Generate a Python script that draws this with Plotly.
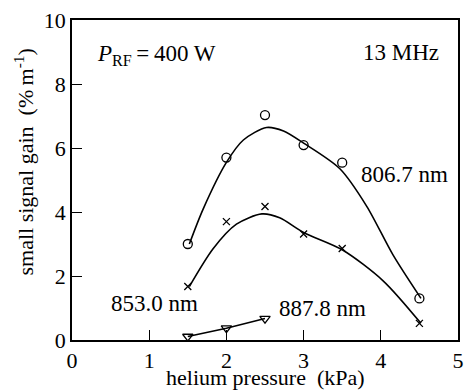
import plotly.graph_objects as go

# Measured points
pressure = [1.5, 2.0, 2.5, 3.0, 3.5, 4.5]
gain_806 = [3.0, 5.7, 7.03, 6.09, 5.54, 1.30]
gain_853 = [1.67, 3.70, 4.17, 3.31, 2.86, 0.52]
pressure_887 = [1.5, 2.0, 2.5]
gain_887 = [0.11, 0.37, 0.67]

# Hand-drawn fit curves
fit_x_806 = [1.52, 1.70, 2.0, 2.22, 2.52, 2.74, 3.0, 3.47, 3.82, 4.16, 4.52]
fit_y_806 = [3.0, 4.10, 5.55, 6.25, 6.64, 6.53, 6.15, 5.35, 4.17, 2.65, 1.30]
fit_x_853 = [1.52, 1.83, 2.13, 2.46, 2.69, 3.0, 3.5, 4.03, 4.52]
fit_y_853 = [1.67, 2.86, 3.62, 3.94, 3.82, 3.36, 2.82, 1.85, 0.52]

FONT = "Liberation Serif"
fig = go.Figure()

for fx, fy in [(fit_x_806, fit_y_806), (fit_x_853, fit_y_853)]:
    fig.add_trace(go.Scatter(x=fx, y=fy, mode="lines", line=dict(color="black", width=1.6, shape="spline", smoothing=0.8),
                             showlegend=False, hoverinfo="skip"))
fig.add_trace(go.Scatter(x=pressure_887, y=gain_887, mode="lines+markers",
                         line=dict(color="black", width=1.6),
                         marker=dict(symbol="triangle-down-open", size=9, color="black", line=dict(width=1.3)),
                         showlegend=False))
fig.add_trace(go.Scatter(x=pressure, y=gain_806, mode="markers",
                         marker=dict(symbol="circle-open", size=9, color="black", line=dict(width=1.3)),
                         showlegend=False))
fig.add_trace(go.Scatter(x=pressure, y=gain_853, mode="markers",
                         marker=dict(symbol="x-thin-open", size=7, color="black", line=dict(width=1.3)),
                         showlegend=False))

ann = [
    dict(x=0.30, y=8.9, text="<i>P</i><sub>RF</sub>\u2009=\u2009400 W", xanchor="left"),
    dict(x=4.78, y=9.0, text="13 MHz", xanchor="right"),
    dict(x=3.72, y=5.16, text="806.7 nm", xanchor="left"),
    dict(x=0.48, y=1.15, text="853.0 nm", xanchor="left"),
    dict(x=2.65, y=0.99, text="887.8 nm", xanchor="left"),
]
for a in ann:
    fig.add_annotation(x=a["x"], y=a["y"], text=a["text"], xanchor=a["xanchor"], yanchor="middle",
                       showarrow=False, font=dict(family=FONT, size=23, color="black"))

# axis titles placed as annotations (positions as in the original)
fig.add_annotation(xref="paper", yref="paper", x=-0.124, y=0.555, textangle=-90,
                   text="small signal gain  (%\u2009m<sup>-1</sup>)", showarrow=False, borderpad=0,
                   xanchor="center", yanchor="middle", font=dict(family=FONT, size=22, color="black"))
fig.add_annotation(xref="paper", yref="paper", x=0.5, y=-0.118,
                   text="helium pressure  (kPa)", showarrow=False, borderpad=0,
                   xanchor="center", yanchor="middle", font=dict(family=FONT, size=22, color="black"))

axis_common = dict(showline=True, linecolor="black", linewidth=1.8, mirror=True, showgrid=False,
                   zeroline=False, ticks="inside", ticklen=10, tickwidth=1.3, tickcolor="black",
                   automargin=False, tickfont=dict(family=FONT, size=22, color="black"))
fig.update_xaxes(range=[0, 5], dtick=1, **axis_common)
fig.update_yaxes(range=[0, 10], dtick=2, **axis_common)

fig.update_layout(width=468, height=390, margin=dict(l=72, r=10, t=20, b=50),
                  plot_bgcolor="white", paper_bgcolor="white", font=dict(family=FONT))
fig.write_html("out.html")
